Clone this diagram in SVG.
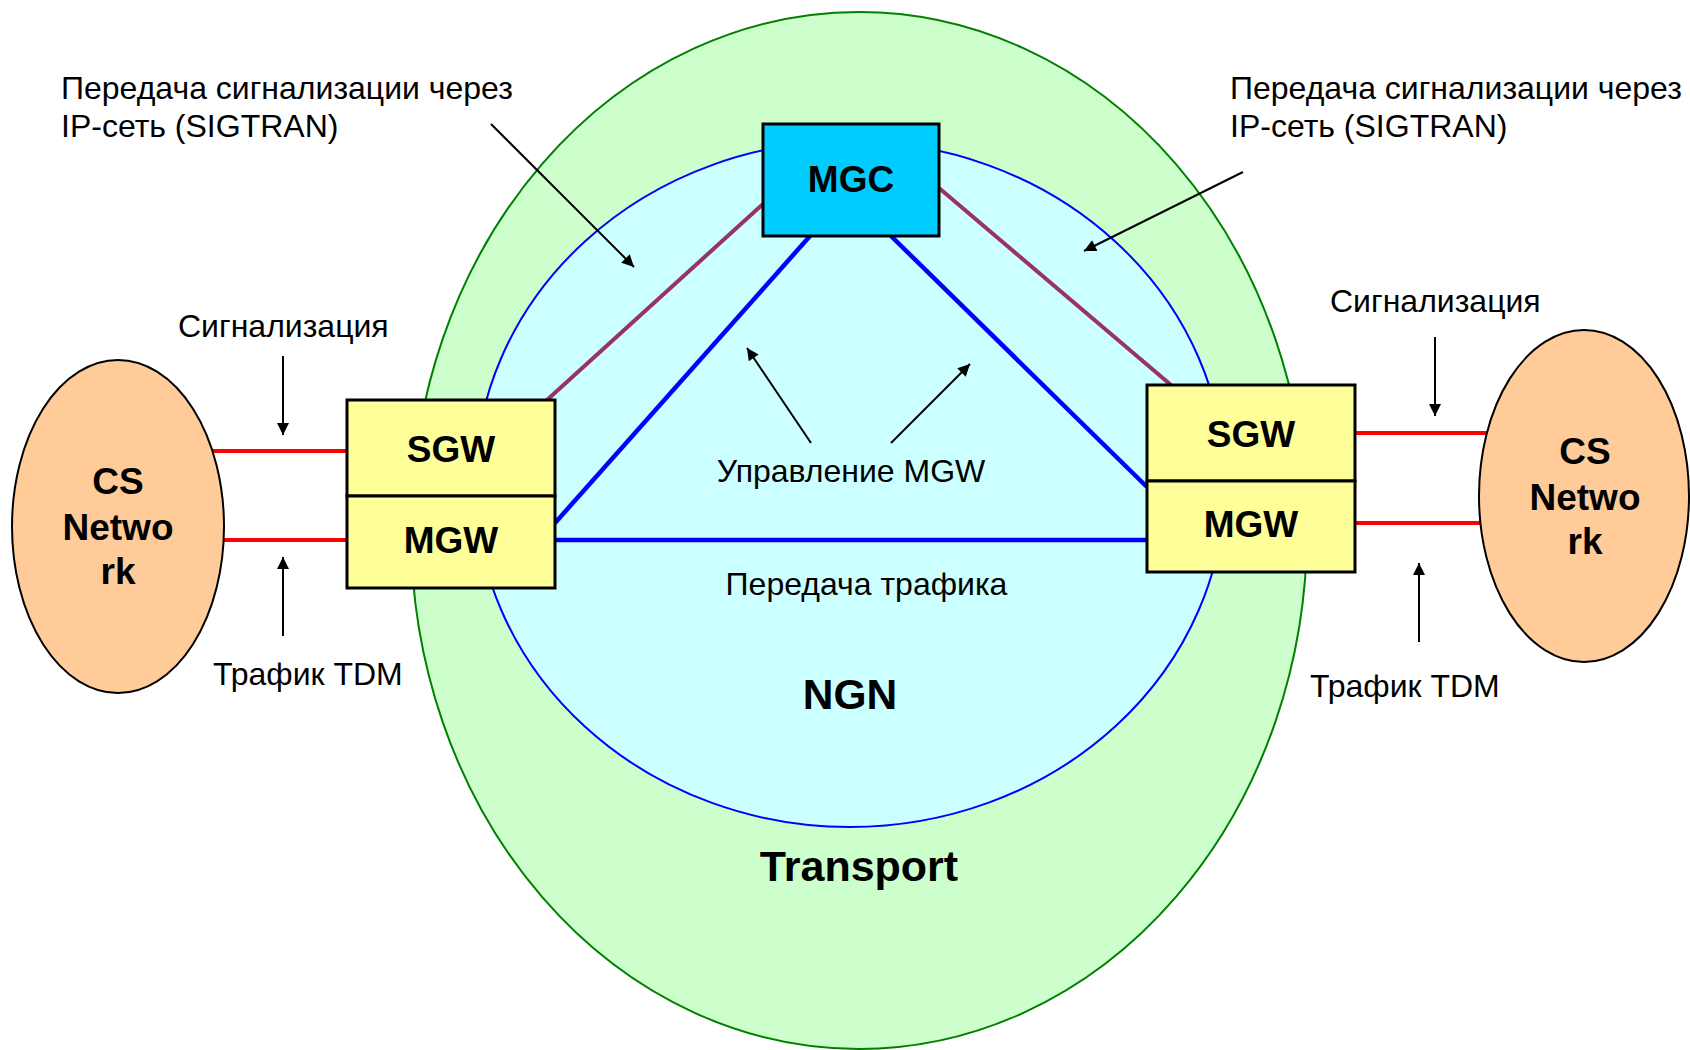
<svg xmlns="http://www.w3.org/2000/svg" width="1690" height="1050" viewBox="0 0 1690 1050">
  <style>
    .lbl { font-family: "Liberation Sans", Arial, sans-serif; font-size: 32px; fill: #000; }
    .bold { font-family: "Liberation Sans", Arial, sans-serif; font-weight: bold; font-size: 37px; fill: #000; text-anchor: middle; }
    .box { fill: #FFFF99; stroke: #000; stroke-width: 3; }
    .cs { fill: #FFCC99; stroke: #000; stroke-width: 2; }
    .sig { stroke: #993366; stroke-width: 4; fill: none; }
    .ctl { stroke: #0000FF; stroke-width: 4.5; fill: none; }
    .tdm { stroke: #FF0000; stroke-width: 4; fill: none; }
    .ptr { stroke: #000; stroke-width: 2; fill: none; marker-end: url(#head); }
  </style>
  <defs>
    <marker id="head" viewBox="0 0 10 10" refX="10" refY="5" markerUnits="userSpaceOnUse" markerWidth="16" markerHeight="12" orient="auto">
      <path d="M0,0 L10,5 L0,10 z" fill="#000"/>
    </marker>
  </defs>

  <rect width="1690" height="1050" fill="#fff"/>

  <!-- network domains -->
  <g id="transport">
    <ellipse cx="859" cy="530.5" rx="448" ry="518.5" fill="#CCFFCC" stroke="#008000" stroke-width="2"/>
    <text class="bold" x="859" y="881" style="font-size:43px">Transport</text>
  </g>
  <g id="ngn">
    <ellipse cx="850" cy="484" rx="375" ry="343" fill="#CCFFFF" stroke="#0000FF" stroke-width="2"/>
    <text class="bold" x="850" y="709" style="font-size:42.5px">NGN</text>
  </g>

  <!-- links and pointers -->
  <g id="connectors">
    <line class="sig" x1="763" y1="204" x2="547" y2="400"/>
    <line class="sig" x1="939" y1="188" x2="1171" y2="385"/>
    <line class="ctl" x1="810" y1="236" x2="555" y2="523"/>
    <line class="ctl" x1="891" y1="236" x2="1147" y2="487"/>
    <line class="ctl" x1="555" y1="540" x2="1147" y2="540"/>
    <line class="tdm" x1="190" y1="451" x2="347" y2="451"/>
    <line class="tdm" x1="190" y1="540" x2="347" y2="540"/>
    <line class="tdm" x1="1355" y1="433" x2="1510" y2="433"/>
    <line class="tdm" x1="1355" y1="523" x2="1510" y2="523"/>

    <line class="ptr" x1="491" y1="124" x2="634" y2="267"/>
    <line class="ptr" x1="1243" y1="172" x2="1084" y2="251"/>
    <line class="ptr" x1="811" y1="443" x2="747" y2="348"/>
    <line class="ptr" x1="891" y1="443" x2="970" y2="364"/>
    <line class="ptr" x1="283" y1="356" x2="283" y2="435"/>
    <line class="ptr" x1="283" y1="636" x2="283" y2="557"/>
    <line class="ptr" x1="1435" y1="337" x2="1435" y2="416"/>
    <line class="ptr" x1="1419" y1="642" x2="1419" y2="563"/>
  </g>

  <!-- labels -->
  <g id="labels">
    <text class="lbl" x="61" y="99">Передача сигнализации через</text>
    <text class="lbl" x="61" y="137">IP-сеть (SIGTRAN)</text>
    <text class="lbl" x="1230" y="99">Передача сигнализации через</text>
    <text class="lbl" x="1230" y="137">IP-сеть (SIGTRAN)</text>
    <text class="lbl" x="178" y="337">Сигнализация</text>
    <text class="lbl" x="1330" y="312">Сигнализация</text>
    <text class="lbl" x="213" y="685">Трафик TDM</text>
    <text class="lbl" x="1310" y="697">Трафик TDM</text>
    <text class="lbl" x="851" y="482" text-anchor="middle">Управление MGW</text>
    <text class="lbl" x="866.5" y="595" text-anchor="middle">Передача трафика</text>
  </g>

  <g id="mgc">
    <rect x="763" y="124" width="176" height="112" fill="#00CCFF" stroke="#000" stroke-width="3"/>
    <text class="bold" x="851" y="192">MGC</text>
  </g>

  <g id="gw-left">
    <rect class="box" x="347" y="400" width="208" height="96"/>
    <rect class="box" x="347" y="496" width="208" height="92"/>
    <text class="bold" x="451" y="462">SGW</text>
    <text class="bold" x="451" y="553">MGW</text>
  </g>

  <g id="gw-right">
    <rect class="box" x="1147" y="385" width="208" height="96"/>
    <rect class="box" x="1147" y="481" width="208" height="91"/>
    <text class="bold" x="1251" y="447">SGW</text>
    <text class="bold" x="1251" y="537">MGW</text>
  </g>

  <g id="cs-left">
    <ellipse class="cs" cx="118" cy="526.5" rx="106" ry="166.5"/>
    <text class="bold" x="118" y="494">CS</text>
    <text class="bold" x="118" y="540">Netwo</text>
    <text class="bold" x="118" y="584">rk</text>
  </g>

  <g id="cs-right">
    <ellipse class="cs" cx="1584" cy="496" rx="105" ry="166"/>
    <text class="bold" x="1585" y="464">CS</text>
    <text class="bold" x="1585" y="510">Netwo</text>
    <text class="bold" x="1585" y="554">rk</text>
  </g>
</svg>
